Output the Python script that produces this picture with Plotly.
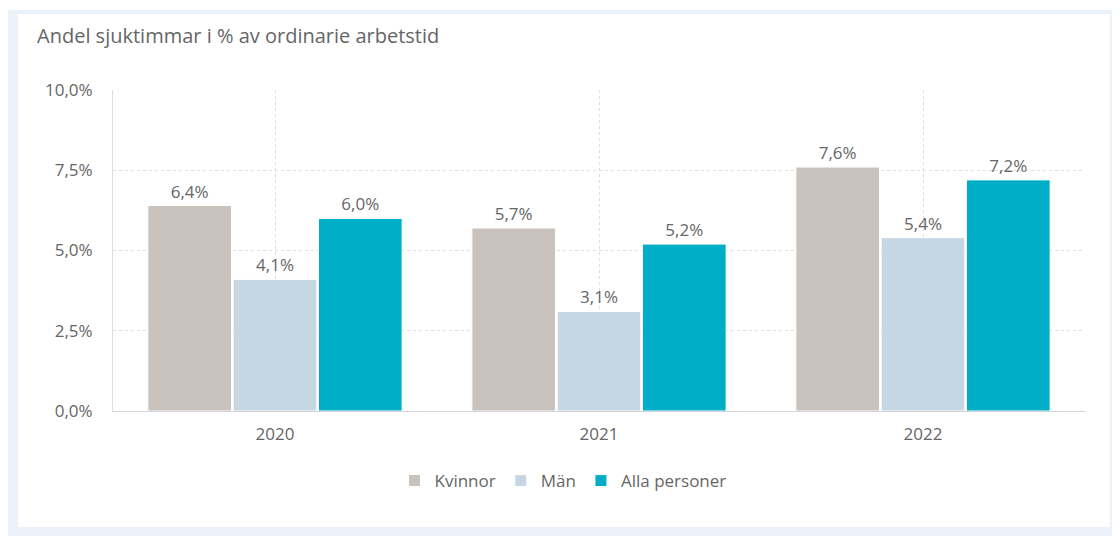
import plotly.graph_objects as go

categories = ["2020", "2021", "2022"]
kvinnor = [6.4, 5.7, 7.6]
man = [4.1, 3.1, 5.4]
alla = [6.0, 5.2, 7.2]
series_names = ["Kvinnor", "Män", "Alla personer"]
colors = ["#cac2bc", "#c6d6e2", "#00afc7"]
y_ticks = [0, 2.5, 5, 7.5, 10]

# page has an 8px body margin, so work in figure coordinates
OFF = 8
W, H = 1120 - OFF, 536 - OFF
L, R, T, B = 113 - OFF, 35, 90 - OFF, 125
pw, ph = W - L - R, H - T - B


def px_x(x):
    return (x - OFF - L) / pw


def px_y(y):
    return (H - B - (y - OFF)) / ph


def fmt(v):
    return f"{v:.1f}".replace(".", ",") + "%"


fig = go.Figure()
for name, vals, col in zip(series_names, [kvinnor, man, alla], colors):
    fig.add_trace(go.Bar(
        x=categories, y=vals, name=name,
        marker=dict(color=col, line=dict(color="white", width=1)),
        text=[fmt(v) for v in vals], textposition="outside",
        textfont=dict(size=17, color="#666666"),
        cliponaxis=False,
    ))

shapes = [
    dict(type="rect", xref="paper", yref="paper", layer="below",
         x0=px_x(8), x1=px_x(1130), y0=px_y(546), y1=px_y(10),
         fillcolor="#edf1f9", line=dict(width=0)),
    dict(type="rect", xref="paper", yref="paper", layer="below",
         x0=px_x(18), x1=px_x(1110), y0=px_y(527), y1=px_y(14),
         fillcolor="white", line=dict(width=0)),
]

fig.update_layout(
    width=W, height=H,
    margin=dict(l=L, r=R, t=T, b=B, autoexpand=False),
    paper_bgcolor="white", plot_bgcolor="rgba(0,0,0,0)",
    font=dict(family="Open Sans, sans-serif", color="#666666", size=17),
    separators=",.",
    barmode="group", bargap=0.21, bargroupgap=0.02,
    shapes=shapes,
    title=dict(text="Andel sjuktimmar i % av ordinarie arbetstid",
               x=(37 - OFF) / W, xref="container", xanchor="left",
               y=1 - (36 - OFF) / H, yanchor="middle", yref="container",
               font=dict(size=20, color="#666666")),
    showlegend=True,
    legend=dict(orientation="h", x=px_x(563), xanchor="center",
                y=px_y(481), yanchor="middle",
                font=dict(size=17, color="#666666"),
                itemwidth=30, bgcolor="rgba(0,0,0,0)"),
    yaxis=dict(range=[0, 10], tickvals=y_ticks, ticktext=[fmt(v) for v in y_ticks],
               showgrid=True, gridcolor="#dddddd", griddash="dot", gridwidth=1,
               showline=True, linecolor="#dcdde3", linewidth=1,
               zeroline=False, ticks="", ticklabelstandoff=16,
               tickfont=dict(size=17, color="#666666")),
    xaxis=dict(showgrid=True, gridcolor="#dddddd", griddash="dot", gridwidth=1,
               showline=True, linecolor="#d0d3da", linewidth=1, ticks="",
               ticklabelstandoff=8,
               tickfont=dict(size=17, color="#666666")),
)

fig.write_html("out.html")
